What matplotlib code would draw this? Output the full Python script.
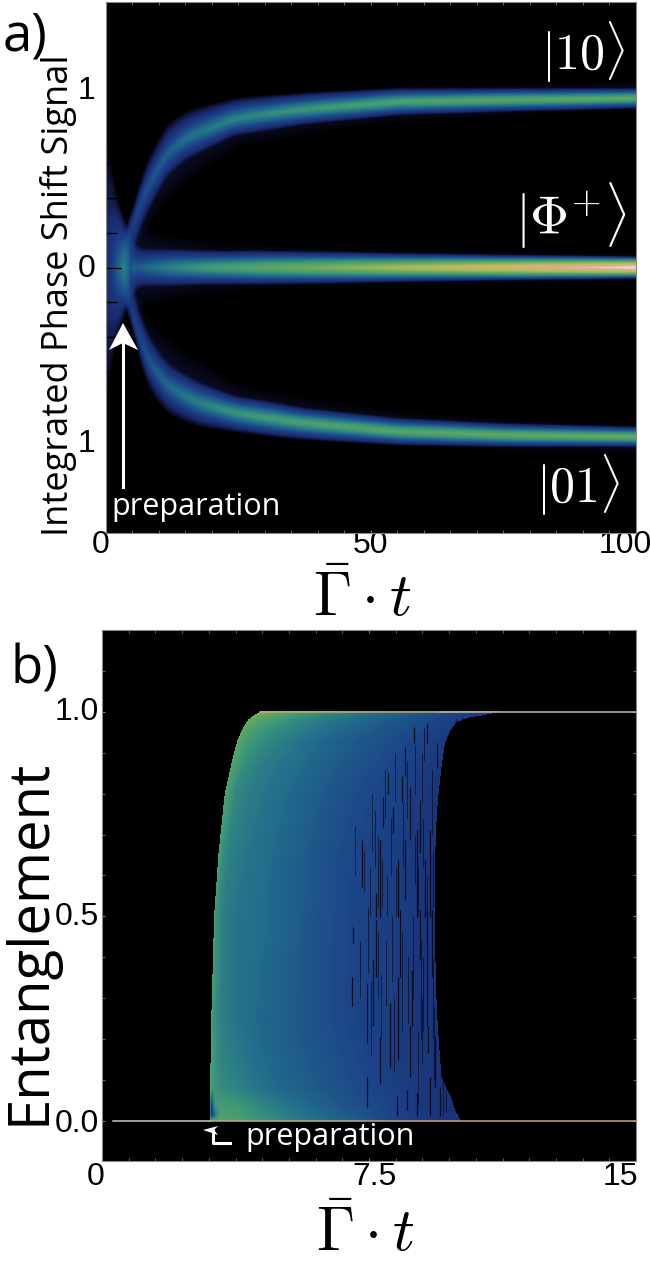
import numpy as np
import matplotlib
matplotlib.use('Agg')
import matplotlib.pyplot as plt
from matplotlib.transforms import Affine2D, ScaledTranslation
from matplotlib.patches import Polygon
from matplotlib.ticker import MultipleLocator
from matplotlib.colors import LinearSegmentedColormap

W, H = 650, 1264
plt.rcParams['mathtext.fontset'] = 'cm'

cmap_pos = [0, .05, .10, .20, .30, .40, .50, .60, .70, .80, .90, 1]
cmap_col = ['#000000', '#10143c', '#1a2a70', '#1c4488', '#22708c', '#3f9878',
            '#62a85f', '#a0b85a', '#c8b868', '#d4b090', '#e8d8c8', '#ffffff']
earth = LinearSegmentedColormap.from_list('earth', list(zip(cmap_pos, cmap_col)))

# ---------- panel a: branches of the signal histogram
up_t    = [3, 4, 5, 7, 8.5, 11.5, 15, 18, 24, 30, 37, 55, 75, 100]
up_c    = [.10, .17, .24, .41, .50, .66, .74, .78, .85, .88, .905, .95, .96, .97]
up_out  = [.10, .10, .11, .16, .17, .17, .16, .15, .125, .11, .10, .08, .07, .06]
up_in   = [.16, .16, .17, .16, .15, .14, .13, .12, .10, .10, .09, .08, .07, .06]
up_peak = [.00, .11, .14, .17, .19, .22, .25, .27, .30, .32, .35, .40, .43, .45]

lo_t    = [3, 4, 5, 7, 8.5, 11.5, 15, 18, 24, 30, 37, 55, 75, 100]
lo_c    = [-.10, -.17, -.26, -.47, -.56, -.68, -.74, -.78, -.83, -.86, -.89, -.94, -.96, -.97]
lo_out  = [.10, .10, .11, .16, .17, .16, .15, .14, .115, .11, .10, .08, .07, .06]
lo_in   = [.16, .16, .17, .16, .15, .14, .13, .12, .10, .10, .09, .08, .07, .06]
lo_peak = [.00, .11, .14, .17, .20, .24, .27, .30, .34, .37, .39, .43, .45, .47]

wake_t    = [4, 7, 10, 15, 25, 40, 55, 75, 100]
wake_in   = [.20, .26, .29, .28, .18, .15, .13, .10, .08]
wake_peak = [.03, .05, .05, .05, .05, .05, .05, .05, .05]

mid_t    = [0, 1, 2, 3, 4, 5, 6, 8, 12, 20, 30, 40, 55, 75, 90, 100]
mid_half = [.85, .58, .42, .32, .25, .16, .12, .11, .11, .10, .10, .095, .085, .075, .07, .065]
mid_peak = [.11, .16, .24, .37, .30, .20, .20, .24, .30, .38, .44, .49, .58, .70, .80, .88]

halo_t    = [5, 8, 12, 20, 30, 50, 100]
halo_half = [.26, .24, .20, .16, .14, .12, .09]
halo_peak = [.05, .05, .05, .05, .05, .05, .05]

band_u = [0, .15, .35, .55, .75, .9, 1]
band_v = [1, .90, .72, .50, .30, .13, 0]

# ---------- panel b: colour level against time since the rising edge
ent_levels = [0.0, 0.015, 0.04, 0.08, 0.15, 0.25, 0.5, 0.65, 0.8, 0.87, 0.93, 0.96, 0.98, 0.99, 1.0]
rise_t     = [3.02, 3.03, 3.03, 3.04, 3.05, 3.07, 3.15, 3.27, 3.45, 3.63, 3.80, 3.95, 4.10, 4.25, 4.44]
after_rise = [0, .04, .14, .3, .7, 1.2, 2, 3, 4, 5, 5.8, 6.5, 8]
color_table = [
    [.46, .46, .46, .47, .45, .41, .36, .31, .26, .21, .17, .14, .12],
    [.46, .14, .30, .44, .43, .39, .34, .29, .25, .20, .17, .14, .12],
    [.45, .18, .40, .42, .40, .37, .32, .27, .23, .20, .16, .14, .12],
    [.45, .42, .40, .37, .35, .32, .28, .25, .22, .19, .16, .14, .12],
    [.45, .42, .38, .35, .33, .30, .27, .24, .21, .18, .16, .14, .12],
    [.44, .40, .37, .34, .31, .29, .26, .23, .20, .18, .15, .14, .12],
    [.42, .39, .36, .33, .31, .30, .27, .23, .20, .18, .15, .14, .12],
    [.44, .40, .37, .34, .32, .30, .27, .23, .20, .18, .15, .14, .12],
    [.47, .43, .40, .36, .33, .31, .28, .24, .21, .19, .15, .14, .12],
    [.48, .45, .42, .38, .34, .32, .29, .25, .22, .19, .16, .14, .12],
    [.50, .48, .45, .41, .37, .34, .30, .26, .23, .20, .17, .15, .13],
    [.50, .49, .47, .44, .39, .36, .32, .28, .24, .21, .17, .15, .13],
    [.52, .51, .49, .47, .42, .38, .33, .29, .25, .21, .18, .16, .14],
    [.54, .54, .52, .50, .45, .40, .35, .30, .26, .22, .19, .17, .15],
    [.58, .57, .55, .52, .47, .42, .37, .32, .27, .23, .20, .18, .15],
]
edge_e = [0.0, .007, .027, .06, .107, .19, .27, .35, .435, .5, .62, .705, .785, .865, .92, .95, .964, .975, .985, .992, 1.0]
edge_t = [10.05, 10.05, 9.92, 9.80, 9.54, 9.47, 9.41, 9.38, 9.36, 9.36, 9.36, 9.38, 9.44, 9.54, 9.63, 9.77, 9.86, 9.98, 10.3, 10.8, 11.2]

streak_t = [8.75, 9.12, 9.40, 8.51, 8.04, 7.90, 8.18, 8.42, 8.65, 8.93, 8.86, 9.21, 8.32, 7.81, 7.29, 8.51, 9.07, 7.71,
            7.71, 8.37, 8.93, 9.12, 9.26, 7.62, 7.43, 8.32, 8.09, 8.70, 8.65, 9.17, 9.35, 7.43, 7.01, 7.06, 7.81, 9.21, 9.49, 8.84, 8.56, 8.28]
streak_hi = [.964, .972, .923, .915, .850, .793, .768, .842, .817, .784, .711, .711, .638, .687, .687, .687, .638, .556,
             .492, .516, .516, .516, .516, .394, .337, .353, .288, .369, .231, .231, .206, .108, .353, .475, .206, .108, .084, .068, .076, .060]
streak_lo = [.923, .923, .866, .842, .800, .719, .703, .780, .687, .654, .499, .499, .499, .499, .573, .540, .499, .499,
             .353, .353, .394, .231, .353, .231, .190, .149, .133, .231, .108, .166, .084, .035, .280, .434, .092, .011, .011, .011, .027, .011]

thin_t = [7.12, 7.35, 7.52, 7.58, 7.67, 7.76, 7.86, 7.95, 8.00, 8.12, 8.22, 8.25, 8.46, 8.58, 8.78, 8.80, 8.89, 8.98, 9.02, 9.28, 9.31, 9.05,
          7.25, 7.48, 7.55, 7.75, 7.85, 7.98, 8.14, 8.20, 8.44, 8.60, 8.74, 8.97, 9.00, 9.03, 9.14, 9.29, 9.33, 8.88, 9.58, 9.66, 9.95, 10.12]
thin_hi = [.72, .66, .62, .80, .76, .70, .64, .86, .60, .74, .90, .62, .78, .88, .92, .70, .62, .90, .74, .86, .66, .96,
           .44, .52, .34, .46, .36, .44, .50, .30, .46, .40, .50, .44, .30, .40, .60, .40, .28, .22, .10, .08, .985, .99]
thin_lo = [.60, .56, .50, .66, .62, .52, .52, .74, .50, .60, .78, .50, .62, .74, .80, .58, .50, .78, .62, .70, .52, .88,
           .30, .36, .16, .30, .20, .28, .34, .12, .22, .24, .30, .20, .14, .22, .44, .20, .10, .04, .02, .02, .972, .975]

a_xticks = [0, 50, 100]
a_yticks = [-1, 0, 1]
a_ylabels = ['1', '0', '1']
b_xticks = [0, 7.5, 15]
b_xlabels = ['0', '7.5', '15']
b_yticks = [0.0, 0.5, 1.0]
b_ylabels = ['0.0', '0.5', '1.0']

fig = plt.figure(figsize=(W / 100, H / 100), dpi=100, facecolor='white')
px = Affine2D().scale(1, -1).translate(0, H)


def axes_px(l, t, r, b):
    return fig.add_axes([l / W, 1 - b / H, (r - l) / W, (b - t) / H])


def curve(tt, t, v, n=17):
    """Table lookup with the corners of the table rounded off."""
    raw = np.interp(tt, t, v)
    pad = np.pad(raw, n, mode='edge')
    return np.convolve(pad, np.ones(2 * n + 1) / (2 * n + 1), mode='same')[n:-n]


def add_band(Z, tt, yy, t, c, out, inn, peak):
    cc, oo, ii, pp = (curve(tt, t, v) for v in (c, out, inn, peak))
    inside = (tt >= t[0]) & (tt <= t[-1])
    d = yy[:, None] - cc[None, :]
    pos = c[-1] >= 0
    w_up = oo if pos else ii
    w_dn = ii if pos else oo
    u = np.where(d >= 0, d / w_up[None, :], -d / w_dn[None, :])
    Z += np.interp(u, band_u, band_v, right=0) * pp[None, :] * inside[None, :]


def shift(label, dx=0, dy=0):
    label.set_transform(label.get_transform() + ScaledTranslation(dx / 100, dy / 100, fig.dpi_scale_trans))


# ---------- panel a
ax = axes_px(105.5, 2, 636, 533)
ax.set_facecolor('black')
tt = np.linspace(0, 100, 1600)
yy = np.linspace(-1.52, 1.52, 1100)
Z = np.zeros((yy.size, tt.size))
add_band(Z, tt, yy, up_t, up_c, up_out, up_in, up_peak)
add_band(Z, tt, yy, lo_t, lo_c, lo_out, lo_in, lo_peak)
add_band(Z, tt, yy, wake_t, np.interp(wake_t, up_t, up_c), up_out[:1] * len(wake_t), wake_in, wake_peak)
add_band(Z, tt, yy, wake_t, np.interp(wake_t, lo_t, lo_c), up_out[:1] * len(wake_t), wake_in, wake_peak)
add_band(Z, tt, yy, mid_t, [0] * len(mid_t), mid_half, mid_half, mid_peak)
add_band(Z, tt, yy, halo_t, [0] * len(halo_t), halo_half, halo_half, halo_peak)
ax.imshow(Z, extent=[0, 100, -1.52, 1.52], origin='lower', aspect='auto',
          cmap=earth, vmin=0, vmax=1, interpolation='bilinear')
ax.set_xlim(0, 100)
ax.set_ylim(-1.52, 1.52)
ax.set_xticks(a_xticks)
ax.set_yticks(a_yticks)
ax.set_yticklabels(a_ylabels)
ax.xaxis.set_minor_locator(MultipleLocator(5))
ax.yaxis.set_minor_locator(MultipleLocator(0.2))
ax.tick_params(axis='x', which='both', direction='in', length=2, color='#777777', top=True, pad=2)
ax.tick_params(axis='y', which='major', direction='in', length=11, color='black', width=1, pad=7)
ax.tick_params(axis='y', which='minor', direction='in', length=8, color='black', width=1)
for lab in ax.get_xticklabels() + ax.get_yticklabels():
    lab.set_fontfamily('Liberation Sans')
    lab.set_fontsize(23)
labs = ax.get_xticklabels()
shift(labs[0], dx=-5, dy=6)
shift(labs[1], dy=6)
shift(labs[2], dx=-11, dy=6)
labs = ax.get_yticklabels()
shift(labs[0], dy=2)
shift(labs[1], dy=2)
shift(labs[2], dy=5)
for s in ax.spines.values():
    s.set_color('#888888')
    s.set_linewidth(0.8)

# ---------- panel b
bx = axes_px(102, 630, 636, 1161)
bx.set_facecolor('black')
ee = np.linspace(0, 1, 820)
ts = np.linspace(0, 15, 1600)
left = np.interp(ee, ent_levels, rise_t)
right = np.interp(ee, edge_e, edge_t)
table = np.array(color_table)
E_rows = np.array([np.interp(ee, ent_levels, table[:, j]) for j in range(table.shape[1])]).T
ZB = np.zeros((ee.size, ts.size))
for i in range(ee.size):
    ZB[i] = np.interp(ts - left[i], after_rise, E_rows[i])
    ZB[i][(ts < left[i]) | (ts > right[i])] = 0
bx.imshow(ZB, extent=[0, 15, 0, 1], origin='lower', aspect='auto',
          cmap=earth, vmin=0, vmax=1, interpolation='nearest')
bx.vlines(thin_t, thin_lo, thin_hi, color='#02040f', linewidth=0.5, alpha=0.8)
bx.vlines(streak_t, streak_lo, streak_hi, color='#02040f', linewidth=0.9, alpha=0.85)
bx.plot([0.3, rise_t[0]], [0, 0], color='#c8c8c0', lw=1.1)
bx.plot([rise_t[0], 15], [0, 0], color='#c8a585', lw=1.1)
bx.plot([rise_t[-1], 9.5], [1, 1], color='#b8ac6c', lw=1.1)
bx.plot([9.5, 15], [1, 1], color='#c0bca8', lw=1.1)
bx.set_xlim(0, 15)
bx.set_ylim(-0.098, 1.2)
bx.set_xticks(b_xticks)
bx.set_xticklabels(b_xlabels)
bx.set_yticks(b_yticks)
bx.set_yticklabels(b_ylabels)
bx.xaxis.set_minor_locator(MultipleLocator(0.75))
bx.yaxis.set_minor_locator(MultipleLocator(0.1))
bx.tick_params(which='both', direction='in', length=2, color='#777777', top=True, right=True)
bx.tick_params(axis='y', pad=2)
bx.tick_params(axis='x', pad=2)
for lab in bx.get_xticklabels() + bx.get_yticklabels():
    lab.set_fontfamily('Liberation Sans')
    lab.set_fontsize(23)
labs = bx.get_xticklabels()
shift(labs[0], dx=-6, dy=2)
shift(labs[1], dx=6, dy=2)
shift(labs[2], dx=-16, dy=2)
labs = bx.get_yticklabels()
shift(labs[1], dy=3)
shift(labs[2], dy=3)
for s in bx.spines.values():
    s.set_color('#888888')
    s.set_linewidth(0.8)


# ---------- annotations
def txt(x, y, s, size, color='black', family='Open Sans', rot=0, ha='center', va='center'):
    fig.text(x, y, s, fontsize=size, color=color, family=family, rotation=rot, ha=ha, va=va, transform=px)


txt(25, 37, 'a)', 38)
txt(34, 670, 'b)', 38)
txt(59, 295, 'Integrated Phase Shift Signal', 26, rot=90)
txt(30, 942, 'Entanglement', 40.5, rot=90)
txt(196, 507, 'preparation', 22, color='white')
txt(330, 1137, 'preparation', 22, color='white')
txt(362, 600, r'$\bar{\Gamma}\cdot t$', 44)
txt(365, 1235, r'$\bar{\Gamma}\cdot t$', 44)
txt(583, 52, r'$|10\rangle$', 36, color='white')
txt(571, 216, r'$|\Phi^{+}\rangle$', 39, color='white')
txt(578, 485, r'$|01\rangle$', 36, color='white')

# white arrows
fig.add_artist(plt.Line2D([123, 123], [487, 340], color='white', lw=2.2, transform=px))
fig.add_artist(Polygon([(123, 323), (138, 350), (123, 343), (109, 350)], closed=True,
                       facecolor='white', edgecolor='none', transform=px))
fig.add_artist(plt.Line2D([230, 213, 213], [1143, 1143, 1131], color='white', lw=2.2, transform=px))
fig.add_artist(Polygon([(203, 1130), (218, 1126), (214, 1130), (218, 1135)], closed=True,
                       facecolor='white', edgecolor='none', transform=px))

fig.savefig('out.png', dpi=100, facecolor='white')
